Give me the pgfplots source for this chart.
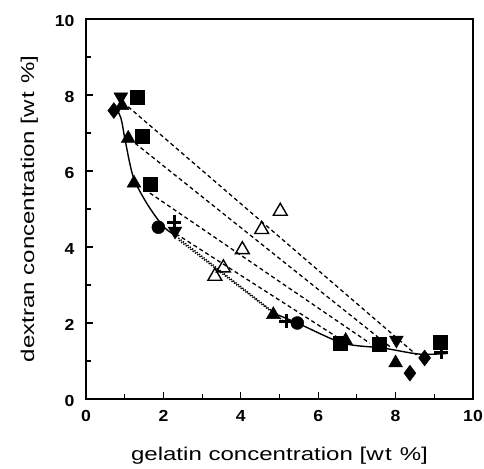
\documentclass[border=0pt]{standalone}
\usepackage{fontspec}
\setmainfont{Liberation Sans}
\newfontfamily\lblfont{Liberation Sans}[FakeStretch=1.3]
\newfontfamily\tickfont{Liberation Sans}[FakeStretch=1.1]
\usepackage{pgfplots}
\pgfplotsset{compat=1.18}
\begin{document}
\begin{tikzpicture}
\begin{axis}[
  scale only axis, width=387pt, height=380pt,
  xmin=0, xmax=10, ymin=0, ymax=10,
  xtick={0,2,...,10}, ytick={0,2,...,10},
  minor xtick={1,3,...,9}, minor ytick={1,3,...,9},
  tick align=inside, xtick pos=bottom, ytick pos=left,
  major tick length=7pt, minor tick length=5pt,
  tick style={line width=1.1pt, black},
  axis line style={line width=1.4pt},
  /pgf/number format/assume math mode=true,
  ticklabel style={font=\tickfont\bfseries\fontsize{16}{16}\selectfont},
  xticklabel style={yshift=-8pt},
  yticklabel style={xshift=-8pt, yshift=-2pt},
  xlabel={gelatin concentration [w\kern1.5pt t\hspace{8pt}\%]},
  ylabel={dextran concentration [w\kern1.5pt t\hspace{8pt}\%]},
  label style={font=\lblfont\fontsize{18.5}{18.5}\selectfont},
  xlabel style={yshift=-18pt},
  ylabel style={yshift=10pt},
  clip=false,
]
% binodal (solid)
\addplot[black, line width=1.4pt, smooth] coordinates {
  (0.72,7.75) (0.90,7.40) (1.01,6.82) (1.22,5.85) (1.57,5.15) (2.00,4.54) (2.34,4.28)};
\addplot[black, line width=1.4pt, smooth] coordinates {
  (4.84,2.26) (5.46,2.00) (6.64,1.47) (7.68,1.34) (8.62,1.18) (9.35,1.20)};
% dotted lines
\addplot[black, line width=1.4pt, dash pattern=on 1.3pt off 1.6pt] coordinates {(2.21,4.38) (4.80,2.32)};
\addplot[black, line width=1.4pt, dash pattern=on 1.3pt off 1.6pt] coordinates {(2.40,4.18) (5.12,2.04)};
% dashed tie lines
\addplot[black, line width=1.3pt, dash pattern=on 4pt off 3pt] coordinates {(1.09,7.69) (8.54,1.16)};
\addplot[black, line width=1.3pt, dash pattern=on 4pt off 3pt] coordinates {(1.27,6.73) (7.85,1.38)};
\addplot[black, line width=1.3pt, dash pattern=on 4pt off 3pt] coordinates {(1.65,5.42) (7.33,1.47)};
\addplot[black, line width=1.3pt, dash pattern=on 4pt off 3pt] coordinates {(2.17,4.45) (6.73,1.47)};
% markers
\addplot[only marks, mark=square*, mark size=7pt, black] coordinates {
  (1.33,7.94) (1.44,6.92) (1.65,5.66) (6.56,1.47) (7.57,1.45) (9.14,1.49)};
\addplot[only marks, mark=triangle*, mark size=8pt, black] coordinates {
  (0.93,7.72) (1.09,6.86) (1.24,5.68) (4.84,2.22) (6.71,1.54) (8.00,0.95)};
\addplot[only marks, mark=triangle*, mark size=8pt, black, mark options={rotate=180}] coordinates {
  (0.90,7.95) (2.30,4.42) (8.02,1.55)};
\addplot[only marks, mark=diamond*, mark size=8pt, black] coordinates {
  (0.72,7.59) (8.37,0.68) (8.75,1.08)};
\addplot[only marks, mark=*, mark size=6.5pt, black] coordinates {
  (1.87,4.52) (5.46,2.00)};
\addplot[only marks, mark=+, mark size=7pt, black, line width=3pt] coordinates {
  (2.28,4.65) (5.18,2.04) (9.18,1.23)};
\addplot[only marks, mark=triangle, mark size=8pt, black, line width=1.4pt, fill=white, mark options={fill=white}] coordinates {
  (5.02,4.94) (4.54,4.46) (4.04,3.93) (3.55,3.45) (3.33,3.23)};
\coordinate (SW) at (rel axis cs:0,0);
\coordinate (NE) at (rel axis cs:1,1);
\end{axis}
\pgfresetboundingbox
\path ([shift={(-86pt,-69pt)}]SW) rectangle ([shift={(11pt,19pt)}]NE);
\end{tikzpicture}
\end{document}
